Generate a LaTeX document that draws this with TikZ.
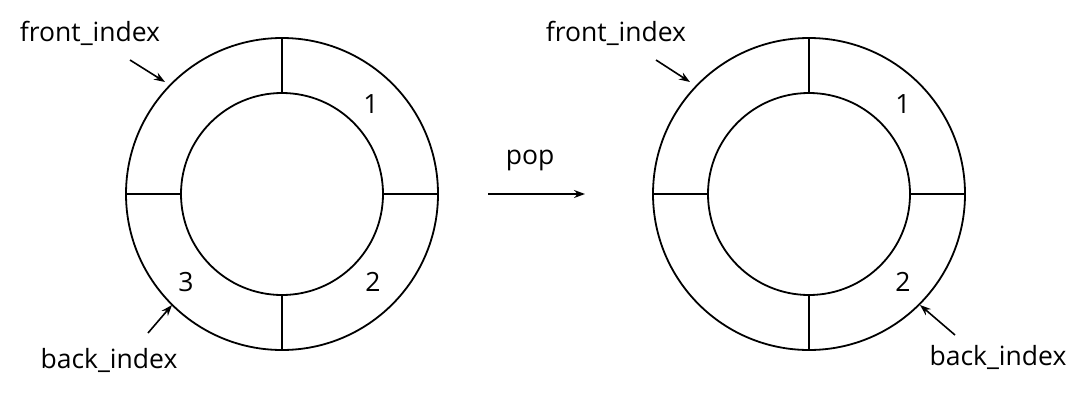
\documentclass[tikz,border=0pt]{standalone}
\usepackage{fontspec}
\setmainfont{Open Sans}
\usepackage{tikz}
\usetikzlibrary{arrows.meta,positioning,calc}

\tikzset{
  ring/.style={line width=1.8pt},
  lbl/.style={font=\fontsize{26.5}{30}\selectfont, inner sep=0pt},
  ptr/.style={-{Stealth[length=11pt,width=8pt]}, line width=1.6pt}
}

\begin{document}
\begin{tikzpicture}[x=1pt,y=-1pt,>=Latex]
\useasboundingbox (0,0) rectangle (1083,407);
% the two ring buffers
\foreach \cx/\nm in {282/L,809/R}{
  \coordinate (c\nm) at (\cx,194);
  \draw[ring] (c\nm) circle[radius=156pt];
  \draw[ring] (c\nm) circle[radius=101pt];
  \foreach \a in {0,90,180,270}
    \draw[ring] ($(c\nm)+(\a:101pt)$) -- ($(c\nm)+(\a:156pt)$);
}
% slot numbers
\node[lbl] (oneL) at (371,104) {1};
\node[lbl] (twoL) at (373,282) {2};
\node[lbl] (threeL) at (186,282) {3};
\node[lbl] (oneR) at (903,104) {1};
\node[lbl] (twoR) at (903,282) {2};
% index pointers, left
\node[lbl] (frontL) at (90,33) {front\_index};
\coordinate (frontLa) at (130,60);
\coordinate (frontLb) at (165,82);
\draw[ptr] (frontLa) -- (frontLb);
\node[lbl] (backL) at (109,360) {back\_index};
\coordinate (backLa) at (148,333);
\coordinate (backLb) at (172,305);
\draw[ptr] (backLa) -- (backLb);
% index pointers, right
\node[lbl] (frontR) at (616,33) {front\_index};
\coordinate (frontRa) at (656,60);
\coordinate (frontRb) at (690,82);
\draw[ptr] (frontRa) -- (frontRb);
\node[lbl] (backR) at (998,357) {back\_index};
\coordinate (backRa) at (955,335);
\coordinate (backRb) at (920,305);
\draw[ptr] (backRa) -- (backRb);
% operation
\node[lbl] (pop) at (530,160) {pop};
\coordinate (popa) at (488,194);
\coordinate (popb) at (585,194);
\draw[ptr] (popa) -- (popb);
\end{tikzpicture}
\end{document}
